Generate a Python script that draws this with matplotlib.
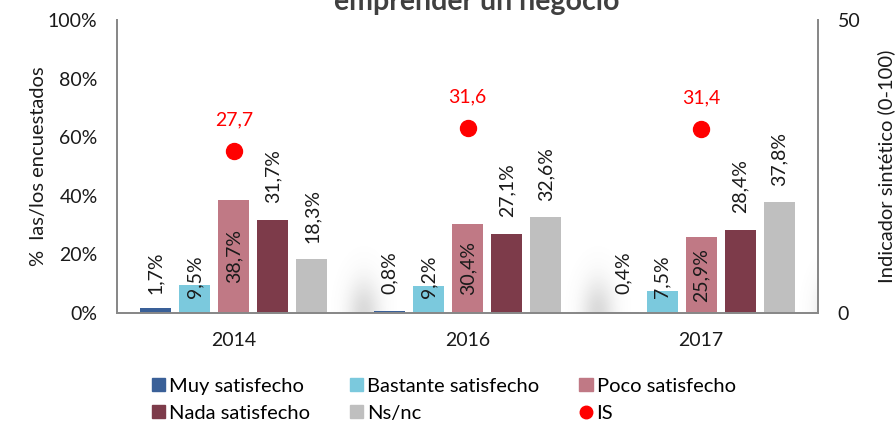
import matplotlib
matplotlib.use("Agg")
import matplotlib.pyplot as plt
from matplotlib.lines import Line2D
from matplotlib.patches import Patch
import numpy as np

years = ["2014", "2016", "2017"]
series_names = ["Muy satisfecho", "Bastante satisfecho", "Poco satisfecho",
                "Nada satisfecho", "Ns/nc"]
muy = [1.7, 0.8, 0.4]
bastante = [9.5, 9.2, 7.5]
poco = [38.7, 30.4, 25.9]
nada = [31.7, 27.1, 28.4]
nsnc = [18.3, 32.6, 37.8]
is_values = [27.7, 31.6, 31.4]

colors = ["#3A6098", "#7BC9DD", "#C07985", "#7D3B4A", "#BFBFBF"]
txt = "#1a1a1a"

plt.rcParams['font.family'] = ['Lato', 'DejaVu Sans']

fig = plt.figure(figsize=(8.96, 4.26), dpi=100)
ax = fig.add_axes([117 / 896, 1 - 313 / 426, 701 / 896, 293 / 426])
ax2 = ax.twinx()

x = np.arange(len(years))
width = 0.133
step = 0.167
all_series = [muy, bastante, poco, nada, nsnc]

for i, vals in enumerate(all_series):
    xs = x + (i - 2) * step
    ax.bar(xs, vals, width, color=colors[i], zorder=2)
    for xi, v in zip(xs, vals):
        lab = f"{v:.1f}%".replace(".", ",")
        if i == 1:
            # light blue labels sit low, overlapping the bar top
            ax.annotate(lab, (xi, 0), xytext=(0, 11), textcoords="offset points",
                        rotation=90, ha="center", va="bottom", fontsize=14, color=txt)
        elif i == 2:
            ax.text(xi, v / 2, lab, rotation=90, ha="center", va="center",
                    fontsize=14, color=txt)
        elif i == 0:
            ax.annotate(lab, (xi, 0), xytext=(0, 14), textcoords="offset points",
                        rotation=90, ha="center", va="bottom", fontsize=14, color=txt)
        else:
            ax.annotate(lab, (xi, v), xytext=(0, 12), textcoords="offset points",
                        rotation=90, ha="center", va="bottom", fontsize=14, color=txt)

# soft grey shadow to the right of each group (Excel glow effect)
gx = np.linspace(0, 1, 120)
gy = np.linspace(0, 1, 60)
GX, GY = np.meshgrid(gx, gy)
alpha = 0.26 * np.exp(-((GX - 0.45) ** 2) / 0.04 - (GY ** 2) / 0.14)
shadow = np.zeros((60, 120, 4))
shadow[..., :3] = 0.45
shadow[..., 3] = alpha
for xi in x + 2 * step + width / 2:
    ax.imshow(shadow, extent=(xi, xi + 0.35, 0, 30), origin="lower",
              aspect="auto", zorder=1, interpolation="bilinear")

ax2.plot(x, is_values, "o", color="#FF0000", markersize=11.5, zorder=3)
for xi, v in zip(x, is_values):
    ax2.annotate(f"{v:.1f}".replace(".", ","), (xi, v), xytext=(0, 16),
                 textcoords="offset points", ha="center", va="bottom",
                 fontsize=14, color="#FF0000")

ax.set_xlim(-0.5, 2.5)
ax.set_ylim(0, 100)
ax2.set_ylim(0, 50)
ax.set_yticks([0, 20, 40, 60, 80, 100])
ax.set_yticklabels([f"{t}%" for t in [0, 20, 40, 60, 80, 100]])
ax2.set_yticks([0, 50])
ax.set_xticks(x)
ax.set_xticklabels(years)

for a in (ax, ax2):
    a.tick_params(length=0, labelsize=14, colors=txt)
    a.spines["top"].set_visible(False)
    for s in ["left", "right", "bottom"]:
        a.spines[s].set_color("#888888")
        a.spines[s].set_linewidth(1.3)
ax.tick_params(axis="y", pad=14)
ax.tick_params(axis="x", pad=14)
ax2.tick_params(axis="y", pad=14)

ax.set_ylabel("%  las/los encuestados", fontsize=14.5, color=txt, labelpad=1)
ax2.set_ylabel("Indicador sintético (0-100)", fontsize=14.5, color=txt, labelpad=12)

fig.text(0.532, 1 - 10 / 426, "emprender un negocio", ha="center", va="baseline",
         fontsize=20.5, fontweight="bold", color="#404040")

handles = [Patch(color=colors[0]), Patch(color=colors[3]),
           Patch(color=colors[1]), Patch(color=colors[4]),
           Patch(color=colors[2]),
           Line2D([], [], marker="o", color="#FF0000", linestyle="none", markersize=9)]
labels = ["Muy satisfecho", "Nada satisfecho", "Bastante satisfecho", "Ns/nc",
          "Poco satisfecho", "IS"]
fig.legend(handles, labels, ncol=3, loc="center", bbox_to_anchor=(0.495, 0.062),
           frameon=False, fontsize=14.5, handlelength=0.65, handleheight=0.65,
           handletextpad=0.2, columnspacing=2.0, labelspacing=0.5)

fig.savefig("out.png", dpi=100)
